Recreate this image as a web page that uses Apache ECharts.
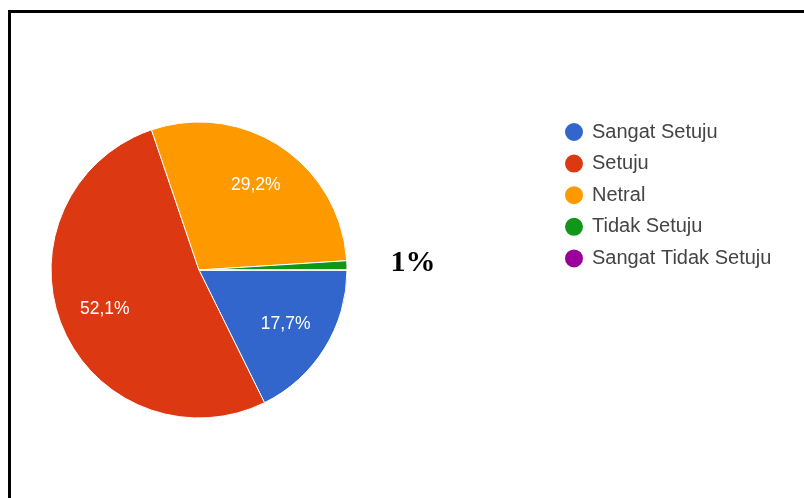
<!DOCTYPE html>
<html>
<head>
<meta charset="utf-8">
<script src="https://cdn.jsdelivr.net/npm/echarts@6/dist/echarts.min.js"></script>
<style>
  html, body { margin: 0; padding: 0; background: #fff; }
  #chart { width: 804px; height: 498px; }
</style>
</head>
<body>
<div id="chart"></div>
<script>
// Survey answers (percent of respondents)
const categories = ['Sangat Setuju', 'Setuju', 'Netral', 'Tidak Setuju', 'Sangat Tidak Setuju'];
const values = [17.7, 52.1, 29.2, 1, 0];
const colors = ['#3366CC', '#DC3912', '#FF9900', '#109618', '#990099'];

const center = [199, 270];

const sliceData = categories.map((name, i) => ({
  name,
  value: values[i],
  itemStyle: { color: colors[i] }
}));

// Percent text with a decimal comma, e.g. 17,7%
function pct(v) {
  return Number.isInteger(v) ? v + '%' : v.toFixed(1).replace('.', ',') + '%';
}

const chart = echarts.init(document.getElementById('chart'), null, { renderer: 'canvas' });

chart.setOption({
  animation: false,
  backgroundColor: '#fff',
  legend: {
    orient: 'vertical',
    left: 558,
    top: 116,
    icon: 'circle',
    itemWidth: 20,
    itemHeight: 20,
    itemGap: 9.6,
    textStyle: {
      fontFamily: 'Arial, "Liberation Sans", sans-serif',
      fontSize: 20,
      color: '#444',
      padding: [0, 0, 0, 3]
    },
    data: categories
  },
  graphic: [{
    type: 'polyline',
    shape: { points: [[9.5, 498], [9.5, 11.5], [804, 11.5]] },
    style: { stroke: '#000', lineWidth: 3, fill: null }
  }],
  series: [
    {
      // the pie itself
      type: 'pie',
      center,
      radius: [0, 148],
      startAngle: 0,
      clockwise: true,
      label: { show: false },
      labelLine: { show: false },
      itemStyle: { borderColor: '#fff', borderWidth: 1 },
      emphasis: { disabled: true },
      data: sliceData
    },
    {
      // percentage labels inside the larger slices
      type: 'pie',
      center,
      radius: [50, 148],
      startAngle: 0,
      clockwise: true,
      silent: true,
      legendHoverLink: false,
      itemStyle: { color: 'rgba(0,0,0,0)', borderWidth: 0 },
      label: {
        show: true,
        position: 'inside',
        color: '#fff',
        fontFamily: 'Arial, "Liberation Sans", sans-serif',
        fontSize: 17.5,
        formatter: p => (p.value >= 5 ? pct(p.value) : '')
      },
      labelLine: { show: false },
      emphasis: { disabled: true },
      data: categories.map((name, i) => ({ name, value: values[i] }))
    },
    {
      // callout for the thin slice
      type: 'pie',
      center,
      radius: [200, 222],
      startAngle: 0,
      clockwise: true,
      silent: true,
      legendHoverLink: false,
      itemStyle: { color: 'rgba(0,0,0,0)', borderWidth: 0 },
      label: {
        show: true,
        position: 'inside',
        color: '#000',
        fontFamily: '"Liberation Serif", "Times New Roman", serif',
        fontWeight: 'bold',
        fontSize: 30,
        formatter: p => (p.value > 0 && p.value < 5 ? pct(p.value) : '')
      },
      labelLine: { show: false },
      emphasis: { disabled: true },
      data: categories.map((name, i) => ({ name, value: values[i] }))
    }
  ]
});
</script>
</body>
</html>
